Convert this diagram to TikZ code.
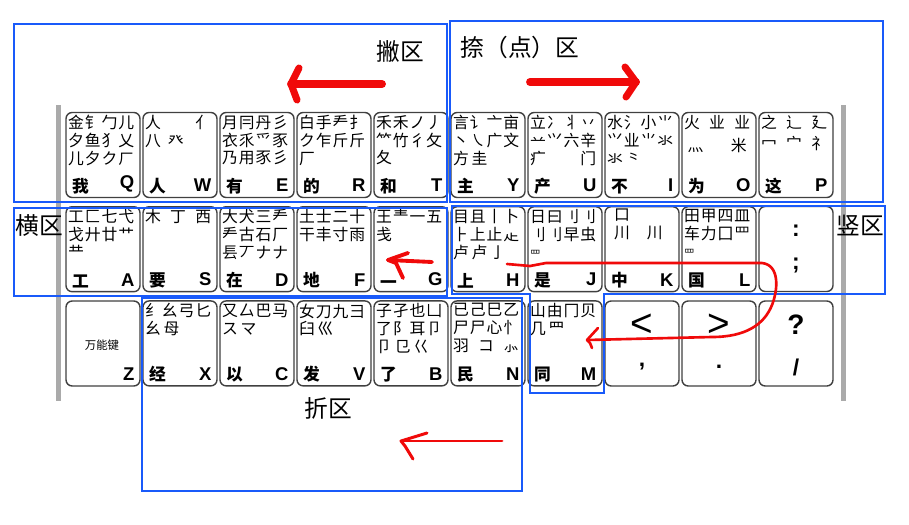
\documentclass[tikz,border=0pt]{standalone}
\usepackage{fontspec}
\setmainfont{Liberation Sans}
\newfontfamily\cjk{Noto Sans CJK SC}
\definecolor{zoneblue}{RGB}{25,90,250}
\definecolor{penred}{RGB}{240,10,10}
\definecolor{bargray}{RGB}{170,170,170}
\tikzset{
  keybox/.style={draw=black!75, line width=0.8pt, rounded corners=3.5pt, minimum width=1.48cm, minimum height=1.7cm, inner sep=0pt, fill=white},
  radtext/.style={anchor=north west, inner sep=0pt, align=left, font=\cjk\fontsize{9}{10.2}\selectfont},
  keychar/.style={anchor=south west, inner sep=0pt, font=\cjk\bfseries\fontsize{9.5}{10}\selectfont},
  keyletter/.style={anchor=south east, inner sep=0pt, font=\bfseries\fontsize{10.5}{11}\selectfont},
  keysign/.style={inner sep=0pt, font=\bfseries\fontsize{13}{14}\selectfont},
  zone/.style={draw=zoneblue, line width=1.2pt},
  zonelabel/.style={inner sep=0pt, font=\cjk\fontsize{13.5}{14}\selectfont},
  pen/.style={draw=penred, line cap=round, line join=round},
}
\newcommand\rw[1]{\hbox to 1.32cm{#1}}
\begin{document}
\begin{tikzpicture}[x=0.02cm, y=-0.02cm]
\useasboundingbox (0,0) rectangle (909,524);
% side bars
\fill[bargray] (56,105) rectangle (61,401);
\fill[bargray] (841,105) rectangle (846,401);
% letter keys
\foreach \lt/\ch/\col/\row/\rd in {
  Q/我/0/0/{\rw{金\hfill 钅\hfill 勹\hfill 儿}\\\rw{夕\hfill 鱼\hfill 犭\hfill 乂}\\\rw{儿\hfill 夕\hfill ク\hfill ㄏ}},
  W/人/1/0/{\rw{人\hfill 亻}\\\rw{八\hspace{4pt}癶\hfill}},
  E/有/2/0/{\rw{月\hfill 冃\hfill 丹\hfill 彡}\\\rw{衣\hfill 乑\hfill 爫\hfill 豕}\\\rw{乃\hfill 用\hfill 豕\hfill 彡}},
  R/的/3/0/{\rw{白\hfill 手\hfill 龵\hfill 扌}\\\rw{ク\hfill 乍\hfill 斤\hfill 斤}\\\rw{厂\hfill}},
  T/和/4/0/{\rw{禾\hfill 禾\hfill ノ\hfill 丿}\\\rw{⺮\hfill 竹\hfill 彳\hfill 攵}\\\rw{夂\hfill}},
  Y/主/5/0/{\rw{言\hfill 讠\hfill 亠\hfill 亩}\\\rw{丶\hfill ㇏\hfill 广\hfill 文}\\\rw{方\,圭\hfill}},
  U/产/6/0/{\rw{立\hfill 冫\hfill 丬\hfill 丷}\\\rw{䒑\hfill ⺍\hfill 六\hfill 辛}\\\rw{疒\hfill 门}},
  I/不/7/0/{\rw{水\hfill 氵\hfill 小\hfill ⺌}\\\rw{⺍\hfill 业\hfill ⺌\hfill 氺}\\\rw{氺\,⺀\hfill}},
  O/为/8/0/{\rw{火\hfill 业\hfill 业}\\[3pt]\rw{\hspace{2pt}灬\hfill 米\hspace{2pt}}},
  P/这/9/0/{\rw{之\hfill 辶\hfill 廴}\\[2pt]\rw{冖\hfill 宀\hfill 礻}},
  A/工/0/1/{\rw{工\hfill 匚\hfill 七\hfill 弋}\\\rw{戈\hfill 廾\hfill 廿\hfill 艹}\\\rw{龷\hfill}},
  S/要/1/1/{\rw{木\hfill 丁\hfill 西}},
  D/在/2/1/{\rw{大\hfill 犬\hfill 三\hfill 龵}\\\rw{龵\hfill 古\hfill 石\hfill 厂}\\\rw{镸\hfill 丆\hfill ナ\hfill ナ}},
  F/地/3/1/{\rw{土\hfill 士\hfill 二\hfill 十}\\\rw{干\hfill 丰\hfill 寸\hfill 雨}},
  G/一/4/1/{\rw{王\hfill 龶\hfill 一\hfill 五}\\\rw{戋\hfill}},
  H/上/5/1/{\rw{目\hfill 且\hfill 丨\hfill 卜}\\\rw{⺊\hfill 上\hfill 止\hfill 龰}\\\rw{卢\,卢\,亅\hfill}},
  J/是/6/1/{\rw{日\hfill 曰\hfill 刂\hfill 刂}\\\rw{刂\hfill 刂\hfill 早\hfill 虫}\\\rw{{\fontsize{6}{6}\selectfont 罒}\hfill}},
  K/中/7/1/{\rw{\hspace{4pt}口\hfill}\\\rw{\hspace{4pt}川\hfill 川\hspace{6pt}}},
  L/国/8/1/{\rw{田\hfill 甲\hfill 四\hfill 皿}\\\rw{车\hfill 力\hfill 囗\hfill 罒}\\\rw{{\fontsize{6}{6}\selectfont 罒}\hfill}},
  X/经/1/2/{\rw{纟\hfill 幺\hfill 弓\hfill 匕}\\\rw{幺\,⺟\hfill}},
  C/以/2/2/{\rw{又\hfill 厶\hfill 巴\hfill 马}\\\rw{ス\,マ\hfill}},
  V/发/3/2/{\rw{女\hfill 刀\hfill 九\hfill 彐}\\\rw{臼\,巛\hfill}},
  B/了/4/2/{\rw{子\hfill 孑\hfill 也\hfill 凵}\\\rw{了\hfill 阝\hfill 耳\hfill 卩}\\\rw{卩\,㔾\,巜\hfill}},
  N/民/5/2/{\rw{已\hfill 己\hfill 巳\hfill 乙}\\\rw{尸\hfill 尸\hfill 心\hfill 忄}\\\rw{羽\hfill コ\hfill ⺗}},
  M/同/6/2/{\rw{山\hfill 由\hfill 冂\hfill 贝}\\\rw{几\,⺲\hfill}}}{
  \node[keybox] (k-\lt) at (103+77*\col,155+94.2*\row) {};
  \node[radtext] at ([xshift=0.05cm,yshift=-0.06cm]k-\lt.north west) {\rd};
  \node[keychar] at ([xshift=0.13cm,yshift=0.08cm]k-\lt.south west) {\ch};
  \node[keyletter] at ([xshift=-0.12cm,yshift=0.12cm]k-\lt.south east) {\lt};
}
% other keys
\node[keybox] (k-semi) at (796,249) {};
\node[keysign] (k-colon) at (796,231) {:};
\node[keysign] (k-semic) at (796,265) {;};
\node[keybox] (k-Z) at (103,343.5) {};
\node[inner sep=0pt, font=\cjk\fontsize{6.5}{7}\selectfont] (k-any) at (102,345) {万能键};
\node[keyletter] at ([xshift=-0.12cm,yshift=0.12cm]k-Z.south east) {Z};
\foreach \nm/\up/\dn/\fs [count=\i from 7] in {comma/{<}/{,}/{\fontsize{22}{24}}, period/{>}/{.}/{\fontsize{22}{24}}, slash/{?}/{/}/{\bfseries\fontsize{16}{18}}}{
  \node[keybox] (k-\nm) at (103+77*\i,343.5) {};
  \node[inner sep=0pt, font=\fs\selectfont] at ([yshift=0.37cm]k-\nm.center) {\up};
  \node[keysign] at ([yshift=-0.47cm]k-\nm.center) {\dn};
}
% zones
\draw[zone] (14,24) rectangle (447,202);
\draw[zone] (450,21) rectangle (883,202);
\draw[zone] (14,208) rectangle (447,296);
\draw[zone] (452,206) -- (885,206) -- (885,294) -- (604,294) -- (604,393) -- (530,393) -- (530,294) -- (452,294) -- cycle;
\draw[zone] (142,298) rectangle (522,491);
\node[zonelabel] (lbl-pie) at (400,51) {撇区};
\node[zonelabel] (lbl-na) at (520,47) {捺（点）区};
\node[zonelabel] (lbl-heng) at (39,226) {横区};
\node[zonelabel] (lbl-shu) at (860,225) {竖区};
\node[zonelabel] (lbl-zhe) at (328,408) {折区};
% red pen arrows
\coordinate (pie-from) at (382,84);
\coordinate (pie-to) at (291,84);
\draw[pen, line width=4.5pt] (pie-from) -- (pie-to);
\draw[pen, line width=4pt] ([shift={(8,-16)}]pie-to) -- (pie-to) -- ([shift={(6,16)}]pie-to);
\coordinate (na-from) at (530,82);
\coordinate (na-to) at (636,82);
\draw[pen, line width=4.5pt] (na-from) -- (na-to);
\draw[pen, line width=4pt] ([shift={(-11,-15)}]na-to) -- (na-to) -- ([shift={(-10,15)}]na-to);
\coordinate (zhe-from) at (502,441);
\coordinate (zhe-to) at (401,441);
\draw[pen, line width=1.7pt] (zhe-from) -- (zhe-to);
\draw[pen, line width=1.7pt] ([shift={(26,-8)}]zhe-to) -- (zhe-to) -- ([shift={(4,5)}]zhe-to) -- ([shift={(12,18)}]zhe-to);
\coordinate (heng-from) at (432,262);
\coordinate (heng-to) at (388,260);
\draw[pen, line width=2.2pt] (heng-from) -- (heng-to);
\draw[pen, line width=2.2pt] ([shift={(20,-7)}]heng-to) -- (heng-to) -- ([shift={(8,3)}]heng-to) -- ([shift={(15,18)}]heng-to);
\coordinate (hook-from) at (507,264);
\coordinate (hook-to) at (587,340);
\draw[pen, line width=1.5pt] (hook-from) -- (530,266) -- (546,263) -- (762,263) .. controls (780,265) and (778,290) .. (772,305) .. controls (764,325) and (745,337) .. (712,337) -- (hook-to);
\draw[pen, line width=1.5pt] ([shift={(11,-12)}]hook-to) -- (hook-to) -- ([shift={(3,3)}]hook-to) -- ([shift={(5,8)}]hook-to);
\end{tikzpicture}
\end{document}
